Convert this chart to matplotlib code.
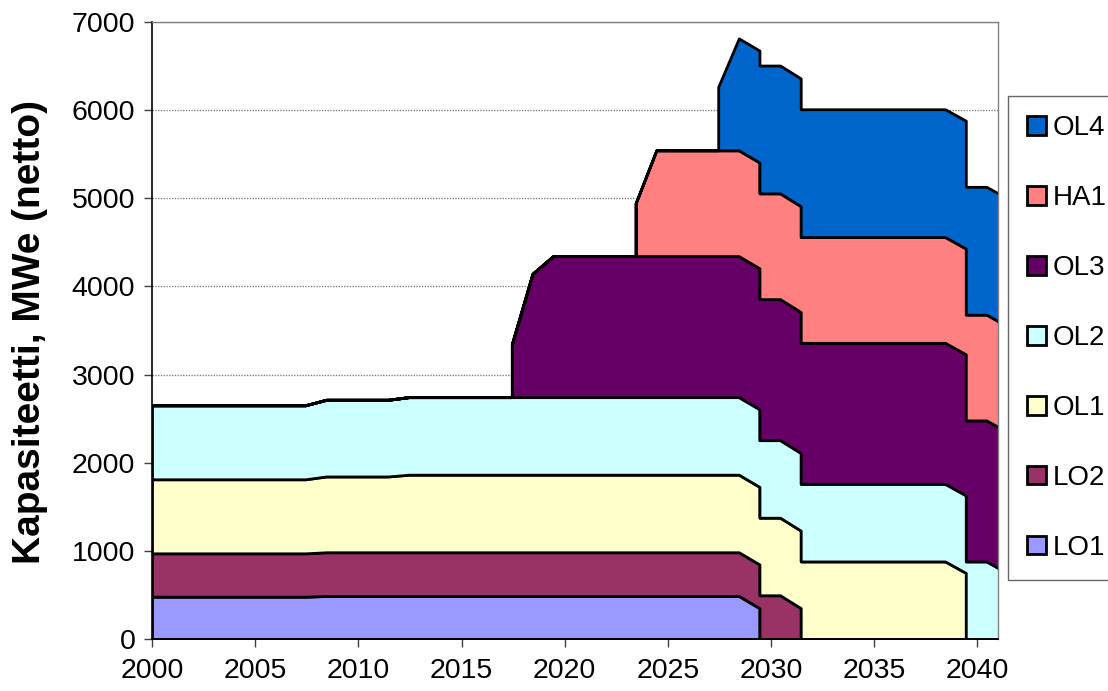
import numpy as np
import matplotlib
matplotlib.use('Agg')
import matplotlib.pyplot as plt

plt.rcParams['font.family'] = ['Liberation Sans', 'DejaVu Sans']

# years (duplicate years mark a unit starting or closing within that year)
years = [2000, 2007.44, 2008.44, 2011.44, 2012.44,
         2017.44, 2017.44, 2018.44, 2019.44,
         2023.44, 2023.44, 2024.44,
         2027.44, 2027.44, 2028.44,
         2029.44, 2029.44, 2030.44, 2031.44, 2031.44,
         2038.44, 2039.44, 2039.44, 2040.44, 2041.44]

# net capacity per unit, MWe
lo1 = [480, 480, 488, 488, 488, 488, 488, 488, 488, 488, 488, 488, 488, 488, 488,
       350, 0, 0, 0, 0, 0, 0, 0, 0, 0]
lo2 = [492, 492, 496, 496, 496, 496, 496, 496, 496, 496, 496, 496, 496, 496, 496,
       496, 496, 496, 350, 0, 0, 0, 0, 0, 0]
ol1 = [840, 840, 860, 860, 880, 880, 880, 880, 880, 880, 880, 880, 880, 880, 880,
       880, 880, 880, 880, 880, 880, 750, 0, 0, 0]
ol2 = [840, 840, 870, 870, 880, 880, 880, 880, 880, 880, 880, 880, 880, 880, 880,
       880, 880, 880, 880, 880, 880, 880, 880, 880, 750]
ol3 = [0, 0, 0, 0, 0, 0, 600, 1400, 1600, 1600, 1600, 1600, 1600, 1600, 1600,
       1600, 1600, 1600, 1600, 1600, 1600, 1600, 1600, 1600, 1600]
ha1 = [0, 0, 0, 0, 0, 0, 0, 0, 0, 0, 600, 1200, 1200, 1200, 1200,
       1200, 1200, 1200, 1200, 1200, 1200, 1200, 1200, 1200, 1200]
ol4 = [0, 0, 0, 0, 0, 0, 0, 0, 0, 0, 0, 0, 0, 720, 1270,
       1270, 1450, 1450, 1450, 1450, 1450, 1450, 1450, 1450, 1450]

labels = ['LO1', 'LO2', 'OL1', 'OL2', 'OL3', 'HA1', 'OL4']
colors = ['#9999FF', '#993366', '#FFFFCC', '#CCFFFF', '#660066', '#FF8080', '#0066CC']

fig = plt.figure(figsize=(11.08, 6.91), dpi=100)
ax = fig.add_axes([152 / 1108, 52 / 691, 846 / 1108, 617 / 691])

polys = ax.stackplot(years, lo1, lo2, ol1, ol2, ol3, ha1, ol4,
                     colors=colors, labels=labels,
                     edgecolor='black', linewidth=2.0, zorder=2)

ax.set_xlim(2000, 2041)
ax.set_ylim(0, 7000)
ax.set_xticks(range(2000, 2041, 5))
ax.set_yticks(range(0, 7001, 1000))
ax.tick_params(axis='both', labelsize=20.5, direction='out', length=6,
               width=1, color='#404040', pad=6)
ax.tick_params(axis='x', pad=8)

ax.grid(axis='y', color='#808080', linestyle=(0, (1, 1)), linewidth=1, zorder=0)
ax.set_axisbelow(True)

for side in ['top', 'right']:
    ax.spines[side].set_color('#808080')
    ax.spines[side].set_linewidth(1)
for side in ['left', 'bottom']:
    ax.spines[side].set_color('black')
    ax.spines[side].set_linewidth(1.2)

fig.text(30 / 1108, 1 - 332 / 691, 'Kapasiteetti, MWe (netto)', rotation=90,
         ha='center', va='center', fontsize=28, fontweight='bold')

handles = polys[::-1]
leg = fig.legend(handles, labels[::-1], loc='upper left',
                 bbox_to_anchor=(1008 / 1108, 1 - 96 / 691),
                 fontsize=20, frameon=True, fancybox=False, shadow=False,
                 borderpad=0.7, labelspacing=1.58, handlelength=0.65,
                 handleheight=0.65, handletextpad=0.25, borderaxespad=0)
leg.get_frame().set_edgecolor('#404040')
leg.get_frame().set_linewidth(1)

fig.savefig('out.png', dpi=100)
